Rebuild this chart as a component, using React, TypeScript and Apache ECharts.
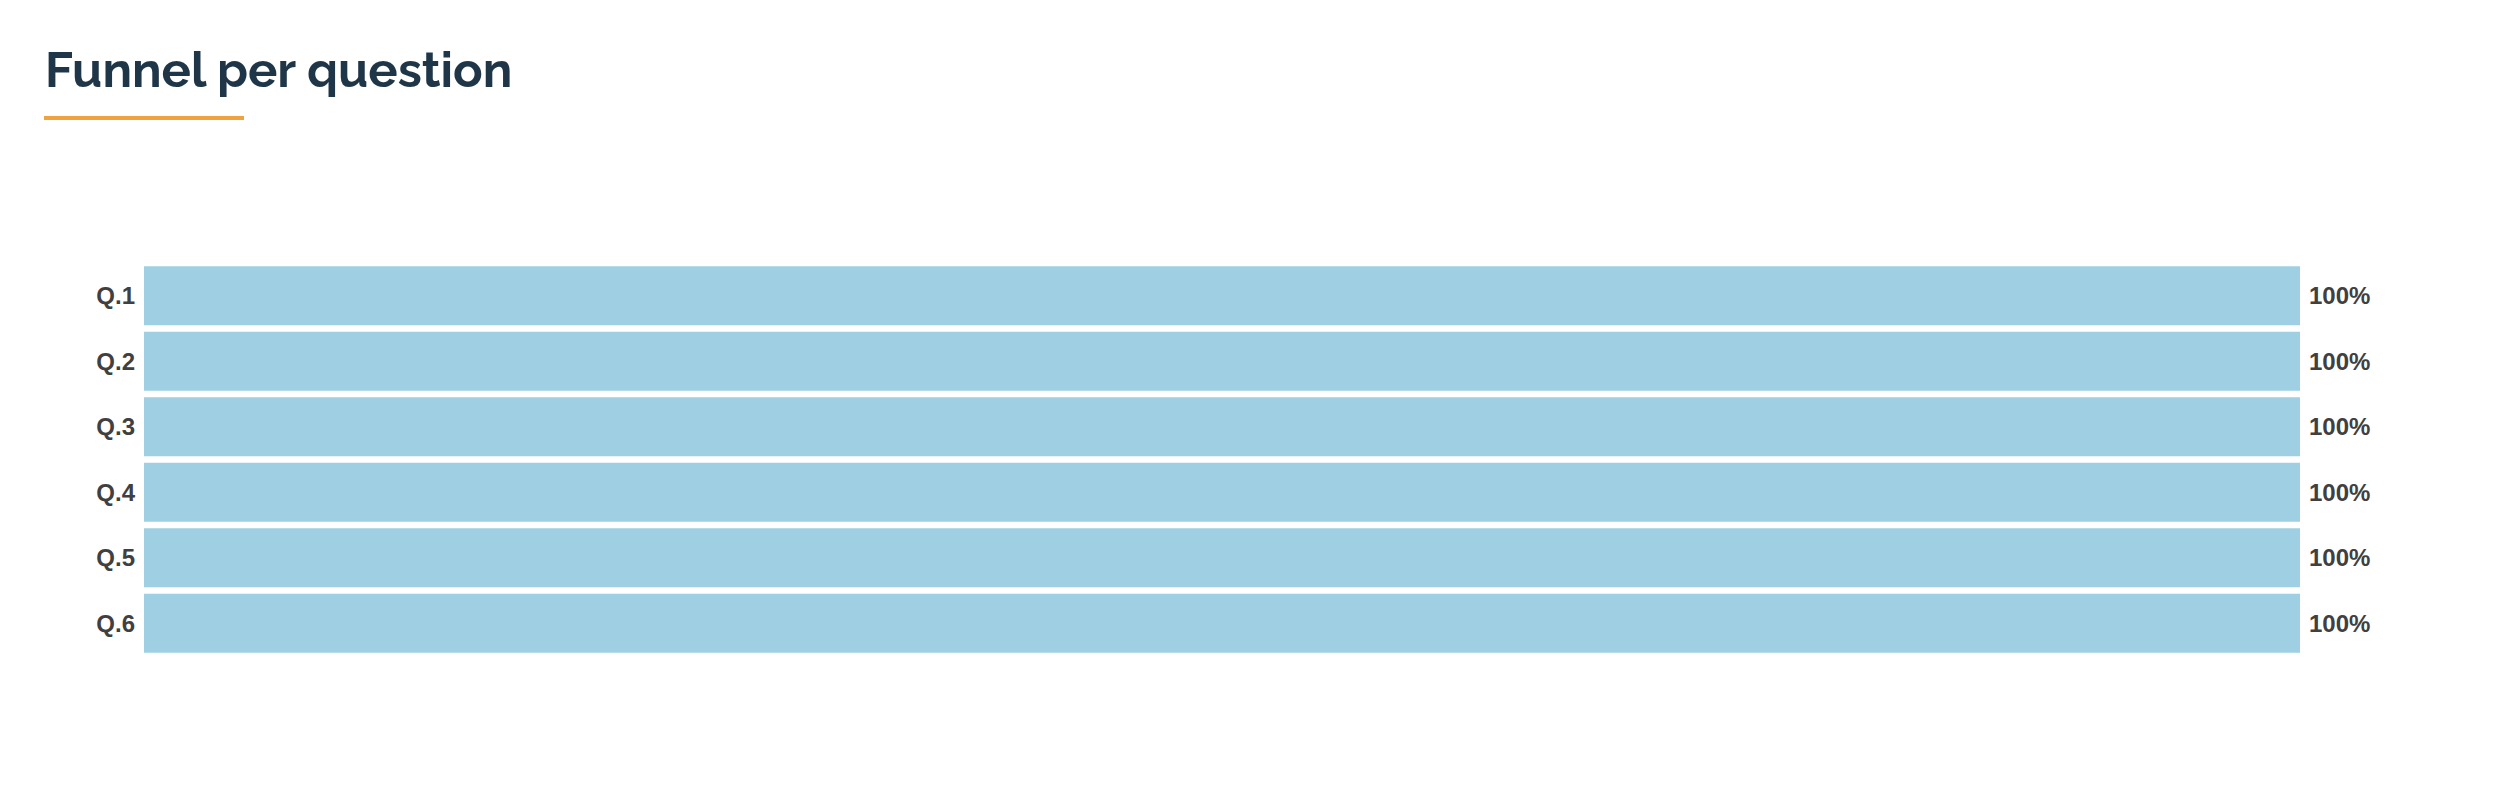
import { useEffect, useRef } from "react";
import * as echarts from "echarts";

const questions = ["Q.1", "Q.2", "Q.3", "Q.4", "Q.5", "Q.6"];
const completion = [100, 100, 100, 100, 100, 100];

export default function App() {
  const chartRef = useRef<HTMLDivElement>(null);

  useEffect(() => {
    if (!chartRef.current) return;
    const chart = echarts.init(chartRef.current, null, { renderer: "svg" });

    chart.setOption({
      animation: false,
      backgroundColor: "#ffffff",
      title: {
        text: "Funnel per question",
        left: 40,
        top: 40,
        textStyle: {
          fontFamily: "Raleway, Lato, sans-serif",
          fontSize: 49,
          fontWeight: "bold",
          color: "#1f3649",
        },
      },
      graphic: [
        {
          type: "rect",
          shape: { x: 44, y: 116, width: 200, height: 4 },
          style: { fill: "#efa23f" },
        },
      ],
      grid: { left: 144, right: 212, top: 263, bottom: 130 },
      xAxis: {
        type: "value",
        min: 0,
        max: 100,
        show: false,
      },
      yAxis: {
        type: "category",
        inverse: true,
        data: questions,
        axisLine: { show: false },
        axisTick: { show: false },
        axisLabel: {
          margin: 9,
          fontFamily: "Arial, 'Liberation Sans', sans-serif",
          fontSize: 24,
          fontWeight: "bold",
          color: "#404040",
        },
      },
      series: [
        {
          type: "bar",
          data: completion,
          barCategoryGap: "10%",
          itemStyle: { color: "#9ecfe2" },
          label: {
            show: true,
            position: "right",
            distance: 9,
            formatter: "{c}%",
            fontFamily: "Arial, 'Liberation Sans', sans-serif",
            fontSize: 24,
            fontWeight: "bold",
            color: "#404040",
          },
        },
      ],
    });

    return () => {
      chart.dispose();
    };
  }, []);

  return (
    <div
      ref={chartRef}
      style={{ position: "fixed", left: 0, top: 0, width: 2512, height: 786 }}
    />
  );
}
